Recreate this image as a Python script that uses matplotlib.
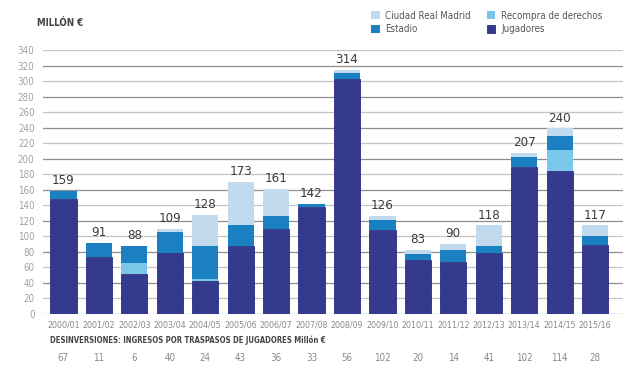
import matplotlib.pyplot as plt
import numpy as np

temporadas = ["2000/01", "2001/02", "2002/03", "2003/04", "2004/05", "2005/06",
              "2006/07", "2007/08", "2008/09", "2009/10", "2010/11", "2011/12",
              "2012/13", "2013/14", "2014/15", "2015/16"]
jugadores = [148, 73, 52, 79, 42, 88, 109, 138, 303, 108, 69, 67, 78, 189, 184, 89]
recompra = [0, 0, 14, 0, 3, 0, 0, 0, 0, 0, 0, 0, 0, 0, 27, 0]
estadio = [11, 18, 22, 26, 43, 26, 17, 4, 8, 13, 8, 15, 10, 13, 18, 11]
ciudad = [0, 0, 0, 4, 40, 56, 35, 0, 3, 5, 6, 8, 26, 6, 10, 14]
totales = [159, 91, 88, 109, 128, 173, 161, 142, 314, 126, 83, 90, 118, 207, 240, 117]
desinversiones = [67, 11, 6, 40, 24, 43, 36, 33, 56, 102, 20, 14, 41, 102, 114, 28]

c_jug = "#343a8e"
c_est = "#1b80c2"
c_rec = "#7bc7e9"
c_ciu = "#c2daee"

plt.rcParams['font.family'] = ['DejaVu Sans']
plt.rcParams['font.stretch'] = 'condensed'

fig = plt.figure(figsize=(6.4, 3.71), dpi=100)
ax = fig.add_axes([0.067, 0.1536, 0.906, 0.7116])

x = np.arange(len(temporadas))
w = 0.74
jug = np.array(jugadores)
rec = np.array(recompra)
est = np.array(estadio)
ciu = np.array(ciudad)

ax.bar(x, jug, w, color=c_jug, edgecolor="#2a2f80", linewidth=0.6, zorder=3, label="Jugadores")
ax.bar(x, rec, w, bottom=jug, color=c_rec, linewidth=0, zorder=3, label="Recompra de derechos")
ax.bar(x, est, w, bottom=jug + rec, color=c_est, linewidth=0, zorder=3, label="Estadio")
ax.bar(x, ciu, w, bottom=jug + rec + est, color=c_ciu, linewidth=0, zorder=3, label="Ciudad Real Madrid")

tops = jug + rec + est + ciu
for i, t in enumerate(totales):
    ax.text(x[i], tops[i] + 5, str(t), ha="center", va="bottom", fontsize=9.5, color="#3a3a3a", zorder=4)

ax.set_xlim(-0.58, len(temporadas) - 0.22)
ax.set_ylim(0, 340)
ax.set_yticks(range(0, 341, 20))
for v in range(0, 341, 20):
    col = "#8f8f8f" if (v // 20) % 2 == 0 else "#c4c4c4"
    ax.axhline(v, color=col, linewidth=0.9, zorder=1)

ax.set_xticks(x)
ax.set_xticklabels(temporadas)
ax.tick_params(axis="x", length=0, labelsize=6.3, labelcolor="#888888", pad=5)
ax.tick_params(axis="y", length=0, labelsize=7, labelcolor="#a0a0a0", pad=6)
for s in ax.spines.values():
    s.set_visible(False)

fig.text(37 / 640, 1 - 23 / 371, "MILLÓN €", fontsize=7, fontweight="bold", color="#444444", va="center")
fig.text(50 / 640, 1 - 340 / 371, "DESINVERSIONES: INGRESOS POR TRASPASOS DE JUGADORES Millón €",
         fontsize=5.6, fontweight="bold", color="#444444", va="center")
for i, d in enumerate(desinversiones):
    xf = ax.transData.transform((x[i], 0))[0] / fig.bbox.width
    fig.text(xf, 1 - 358 / 371, str(d), fontsize=7, color="#888888", ha="center", va="center")

h, l = ax.get_legend_handles_labels()
orden = [3, 2, 1, 0]
fig.legend([h[k] for k in orden], [l[k] for k in orden], ncol=2, frameon=False,
           loc="upper left", bbox_to_anchor=(362 / 640, 1 - 2 / 371), fontsize=7,
           handlelength=0.9, handleheight=0.9, handletextpad=0.6, columnspacing=1.6,
           labelspacing=0.35, labelcolor="#555555")

fig.savefig("out.png", dpi=100)
